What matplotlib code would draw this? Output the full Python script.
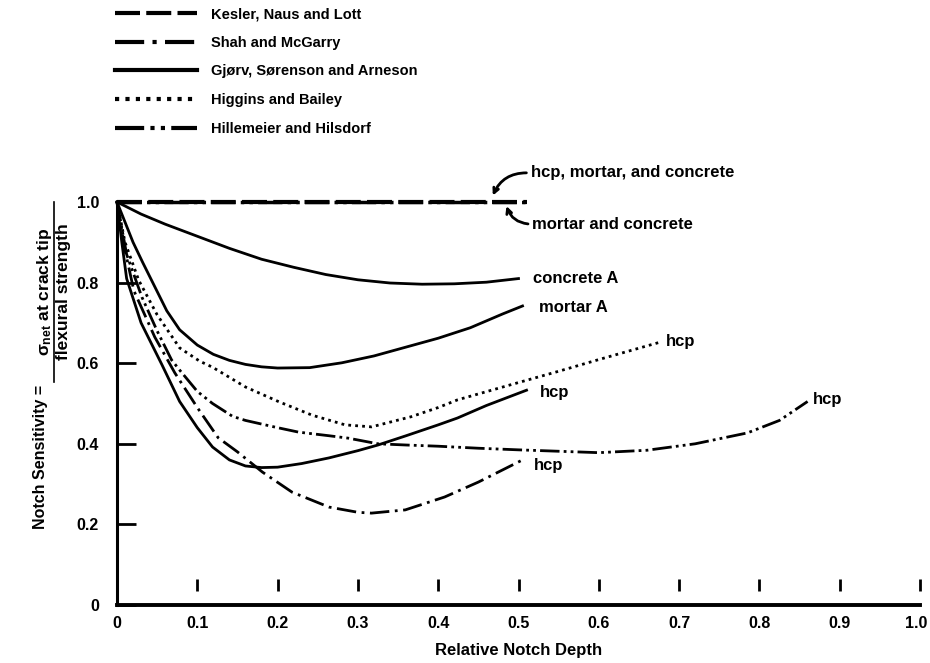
import matplotlib
matplotlib.use('Agg')
import matplotlib.pyplot as plt
from matplotlib.lines import Line2D
from matplotlib.transforms import ScaledTranslation

plt.rcParams['font.family'] = ['Liberation Sans', 'DejaVu Sans']
plt.rcParams['font.weight'] = 'bold'
plt.rcParams['axes.labelweight'] = 'bold'
plt.rcParams['mathtext.fontset'] = 'custom'
plt.rcParams['mathtext.rm'] = 'Liberation Sans:bold'
plt.rcParams['mathtext.it'] = 'Liberation Sans:bold'
plt.rcParams['mathtext.bf'] = 'Liberation Sans:bold'

# 데이터
top_x = [0.0, 0.51]
top_y = [1.0, 1.0]

gjorv_concrete_x = [0, 0.03, 0.06, 0.1, 0.14, 0.18, 0.22, 0.26, 0.3, 0.34, 0.38, 0.42, 0.46, 0.5]
gjorv_concrete_y = [1.0, 0.97, 0.945, 0.915, 0.885, 0.858, 0.838, 0.82, 0.807, 0.799, 0.796, 0.797, 0.801, 0.81]

gjorv_mortar_x = [0, 0.01, 0.02, 0.032, 0.043, 0.062, 0.078, 0.1, 0.12, 0.14, 0.16, 0.18, 0.2,
                  0.24, 0.28, 0.32, 0.36, 0.4, 0.44, 0.48, 0.505]
gjorv_mortar_y = [1.0, 0.95, 0.9, 0.85, 0.806, 0.73, 0.683, 0.645, 0.622, 0.607, 0.597, 0.591, 0.588,
                  0.589, 0.601, 0.618, 0.64, 0.662, 0.688, 0.722, 0.742]

gjorv_hcp_x = [0, 0.006, 0.012, 0.03, 0.056, 0.078, 0.1, 0.119, 0.14, 0.16, 0.18, 0.2, 0.23,
               0.264, 0.3, 0.325, 0.36, 0.4, 0.424, 0.46, 0.51]
gjorv_hcp_y = [1.0, 0.9, 0.81, 0.7, 0.596, 0.505, 0.44, 0.392, 0.36, 0.345, 0.341, 0.342, 0.351,
               0.365, 0.383, 0.397, 0.42, 0.447, 0.464, 0.495, 0.533]

shah_x = [0, 0.01, 0.021, 0.047, 0.072, 0.1, 0.126, 0.15, 0.181, 0.218, 0.264, 0.3, 0.317,
          0.359, 0.408, 0.45, 0.505]
shah_y = [1.0, 0.88, 0.78, 0.665, 0.576, 0.49, 0.415, 0.38, 0.33, 0.28, 0.243, 0.23, 0.228,
          0.236, 0.268, 0.305, 0.36]

higgins_x = [0, 0.01, 0.027, 0.05, 0.078, 0.103, 0.119, 0.16, 0.202, 0.243, 0.284, 0.317,
             0.366, 0.4, 0.424, 0.5, 0.55, 0.6, 0.676]
higgins_y = [1.0, 0.9, 0.806, 0.72, 0.638, 0.605, 0.59, 0.541, 0.504, 0.471, 0.447, 0.442,
             0.467, 0.49, 0.509, 0.552, 0.58, 0.609, 0.652]

hille_x = [0, 0.012, 0.031, 0.05, 0.068, 0.078, 0.1, 0.119, 0.144, 0.16, 0.2, 0.226, 0.264,
           0.288, 0.325, 0.36, 0.4, 0.45, 0.5, 0.6, 0.66, 0.72, 0.785, 0.825, 0.86]
hille_y = [1.0, 0.87, 0.764, 0.68, 0.608, 0.583, 0.53, 0.50, 0.468, 0.458, 0.44, 0.429, 0.42,
           0.414, 0.40, 0.397, 0.394, 0.389, 0.385, 0.378, 0.384, 0.40, 0.427, 0.458, 0.505]

legend_labels = ['Kesler, Naus and Lott', 'Shah and McGarry', 'Gjørv, Sørenson and Arneson',
                 'Higgins and Bailey', 'Hillemeier and Hilsdorf']
xticks = [0, 0.1, 0.2, 0.3, 0.4, 0.5, 0.6, 0.7, 0.8, 0.9, 1.0]
xtick_labels = ['0', '0.1', '0.2', '0.3', '0.4', '0.5', '0.6', '0.7', '0.8', '0.9', '1.0']
yticks = [0, 0.2, 0.4, 0.6, 0.8, 1.0]
ytick_labels = ['0', '0.2', '0.4', '0.6', '0.8', '1.0']

# 선 스타일
st_kesler = (0, (6, 1.5))
st_shah = (0, (7, 2, 1, 2))
st_higgins = (0, (1, 1.5))
st_hille = (0, (7, 1.5, 1, 1.5, 1, 1.5))

fig = plt.figure(figsize=(9.3, 6.63), dpi=100)
ax = fig.add_axes([117 / 930, 58 / 663, 803 / 930, 403 / 663])

lw = 2.0
ax.plot(top_x, top_y, color='k', lw=3, linestyle=st_kesler, clip_on=False)
ax.plot(top_x, top_y, color='k', lw=2.5, linestyle=st_hille, clip_on=False)
ax.plot(gjorv_concrete_x, gjorv_concrete_y, color='k', lw=lw, clip_on=False)
ax.plot(gjorv_mortar_x, gjorv_mortar_y, color='k', lw=lw, clip_on=False)
ax.plot(gjorv_hcp_x, gjorv_hcp_y, color='k', lw=lw, clip_on=False)
ax.plot(shah_x, shah_y, color='k', lw=lw, linestyle=st_shah, clip_on=False)
ax.plot(higgins_x, higgins_y, color='k', lw=lw, linestyle=st_higgins, clip_on=False)
ax.plot(hille_x, hille_y, color='k', lw=lw, linestyle=st_hille, clip_on=False)

fs = 12
# 곡선 끝 라벨
ax.text(0.518, 0.81, 'concrete A', fontsize=fs, va='center', ha='left')
ax.text(0.525, 0.737, 'mortar A', fontsize=fs, va='center', ha='left')
ax.text(0.683, 0.653, 'hcp', fontsize=fs, va='center', ha='left')
ax.text(0.527, 0.527, 'hcp', fontsize=fs, va='center', ha='left')
ax.text(0.866, 0.509, 'hcp', fontsize=fs, va='center', ha='left')
ax.text(0.519, 0.347, 'hcp', fontsize=fs, va='center', ha='left')

arrow = dict(arrowstyle='->,head_length=0.3,head_width=0.15', color='k', lw=2,
             connectionstyle='arc3,rad=0.35', shrinkA=1, shrinkB=0, relpos=(0, 0.5))
ax.annotate('hcp, mortar, and concrete', xy=(0.468, 1.016), xytext=(0.515, 1.072),
            fontsize=fs, va='center', ha='left', arrowprops=arrow, annotation_clip=False)
arrow2 = dict(arrow, connectionstyle='arc3,rad=-0.35')
ax.annotate('mortar and concrete', xy=(0.485, 0.99), xytext=(0.517, 0.945),
            fontsize=fs, va='center', ha='left', arrowprops=arrow2, annotation_clip=False)

# 축
ax.set_xlim(0, 1.0)
ax.set_ylim(0, 1.0)
for s in ['top', 'right']:
    ax.spines[s].set_visible(False)
ax.spines['left'].set_linewidth(2.2)
ax.spines['bottom'].set_linewidth(2.8)
ax.spines['left'].set_bounds(0, 1.0)
ax.spines['bottom'].set_bounds(0, 1.0)

ax.set_xticks(xticks, xtick_labels)
ax.set_yticks(yticks, ytick_labels)
ax.tick_params(axis='x', length=0, pad=8, labelsize=11.5)
ax.tick_params(axis='y', direction='in', length=14, width=2, pad=13, labelsize=11.5)
for t in ax.get_yticklines():
    t.set_clip_on(False)
last = ax.get_xticklabels()[-1]
last.set_transform(last.get_transform() + ScaledTranslation(-3 / 72, 0, fig.dpi_scale_trans))

# x축 위쪽 짧은 눈금
ax.plot(xticks[1:], [0.05] * len(xticks[1:]), linestyle='none', marker='|', ms=9, mew=2,
        color='k', clip_on=False)

ax.set_xlabel('Relative Notch Depth', fontsize=fs)
ax.xaxis.set_label_coords(0.5, -0.095)

# y축 제목 (분수 형태)
fig.text(40 / 930, 1 - 457 / 663, 'Notch Sensitivity =', rotation=90, fontsize=11.5,
         ha='center', va='center')
fig.text(45 / 930, 1 - 292 / 663, r'$\sigma_{\rm net}$ at crack tip', rotation=90, fontsize=12.5,
         ha='center', va='center')
fig.text(63 / 930, 1 - 292 / 663, 'flexural strength', rotation=90, fontsize=12.5,
         ha='center', va='center')
fig.add_artist(Line2D([54 / 930, 54 / 930], [1 - 202 / 663, 1 - 382 / 663], color='k', lw=1.2,
                      transform=fig.transFigure))

# 범례
handles = [Line2D([0], [0], color='k', lw=3, linestyle=st_kesler),
           Line2D([0], [0], color='k', lw=3, linestyle=st_shah),
           Line2D([0], [0], color='k', lw=3),
           Line2D([0], [0], color='k', lw=3, linestyle=st_higgins),
           Line2D([0], [0], color='k', lw=3, linestyle=st_hille)]
fig.legend(handles, legend_labels, loc='upper left', bbox_to_anchor=(115 / 930, 0.989),
           frameon=False, fontsize=10.5, handlelength=5.6, handletextpad=1.0,
           labelspacing=1.0, borderpad=0, borderaxespad=0)

fig.savefig('out.png', dpi=100)
